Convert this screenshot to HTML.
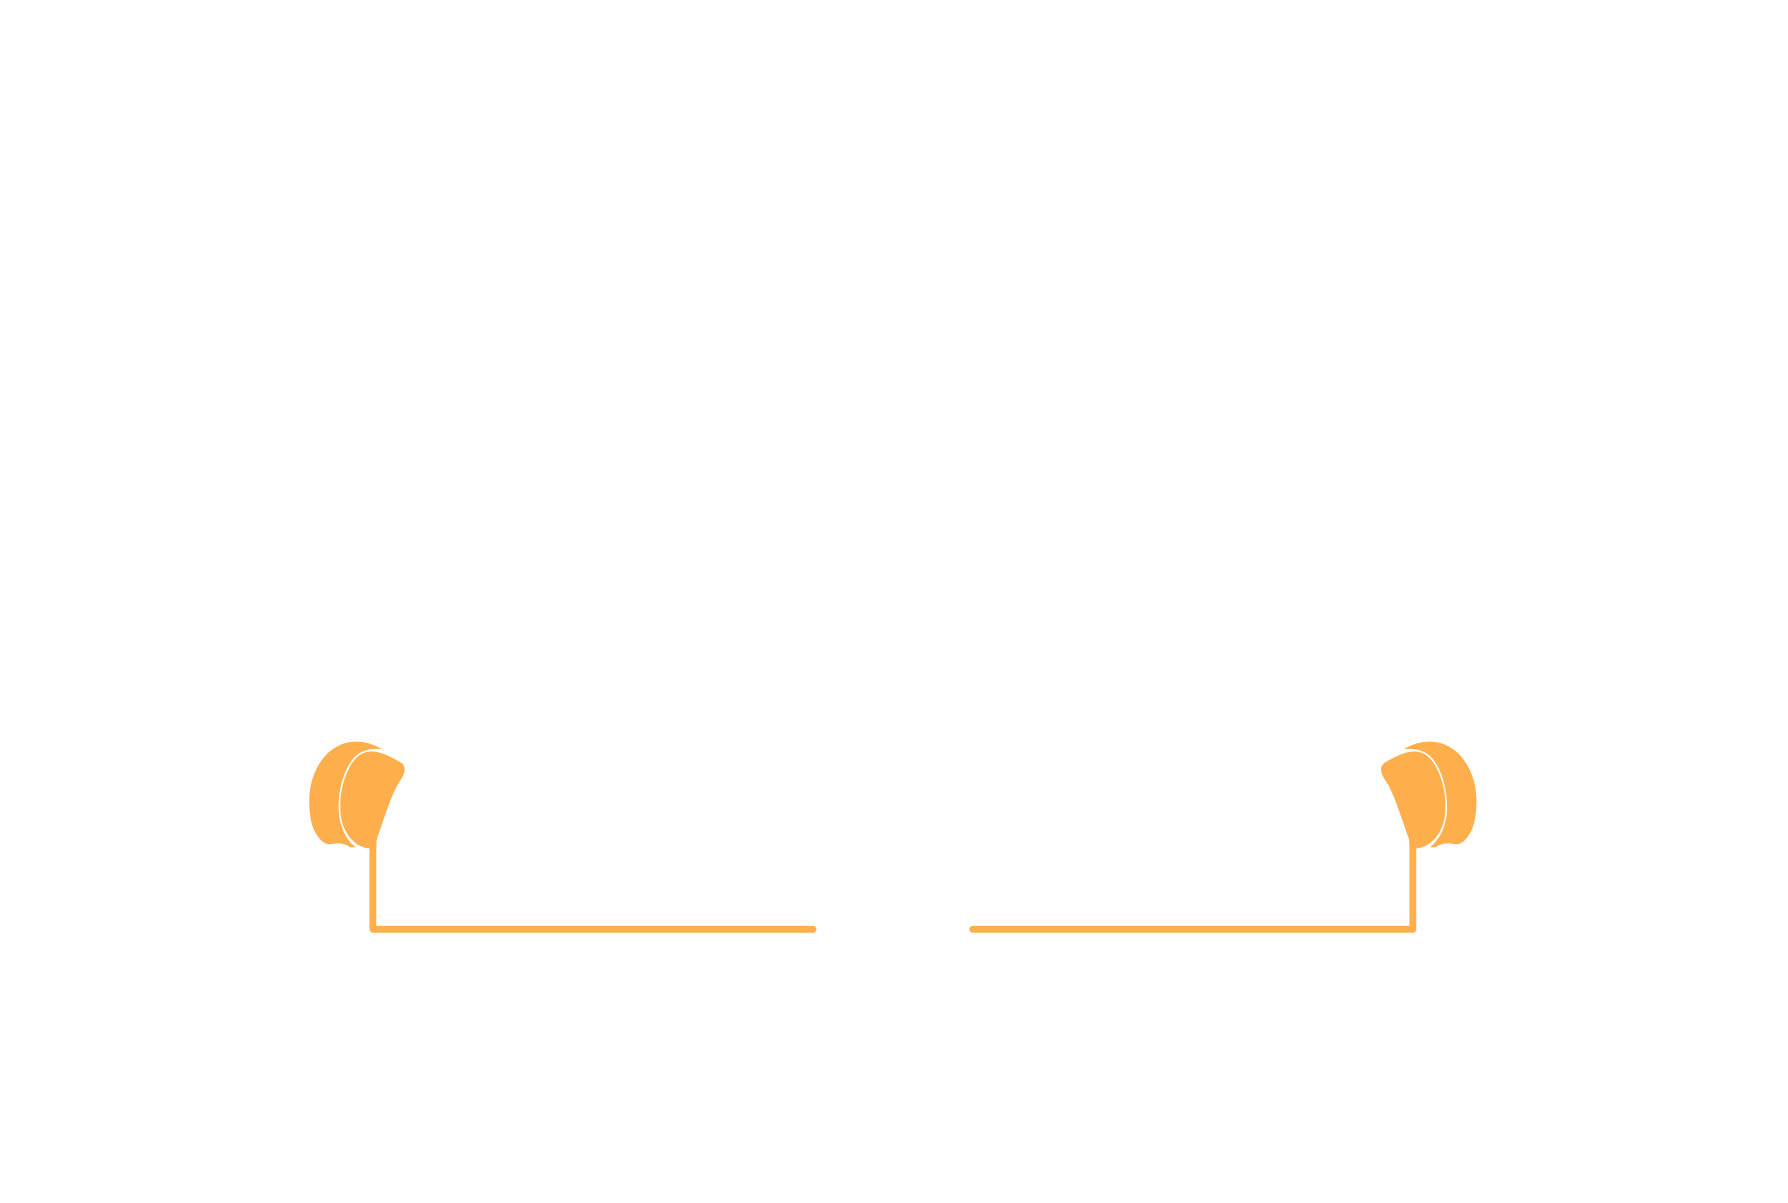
<!DOCTYPE html>
<html>
<head>
<meta charset="utf-8">
<style>
html,body{margin:0;padding:0;background:#fff;}
svg{display:block;}
</style>
</head>
<body>
<svg width="1788" height="1203" viewBox="0 0 1568 1055" preserveAspectRatio="none">
  <g id="left">
    <path fill="#ffae4c" d="M335,657 C320,648 305,649 295,655 C282,662 274,678 272,692 C270,705 272,720 275,727 C280,737 285,742 292,740 C298,739 303,740 307,743 L312,743 C302,735 297,722 297,708 C297,690 302,675 310,665 C316,658 325,656 335,657 Z"/>
    <path fill="#ffae4c" d="M323,744 C310,742 301,730 299,716 C297,700 300,685 307,672 C312,663 318,659 326,659 C335,659 345,665 352,669 C357,673 355,679 350,686 C343,697 337,718 331,734 C330,737 330,740 330,744 Z"/>
    <path fill="none" stroke="#ffae4c" stroke-width="6" stroke-linecap="round" stroke-linejoin="round" d="M327,738 L327,815 L713,815"/>
  </g>
  <g transform="translate(1566,0) scale(-1,1)">
    <path fill="#ffae4c" d="M335,657 C320,648 305,649 295,655 C282,662 274,678 272,692 C270,705 272,720 275,727 C280,737 285,742 292,740 C298,739 303,740 307,743 L312,743 C302,735 297,722 297,708 C297,690 302,675 310,665 C316,658 325,656 335,657 Z"/>
    <path fill="#ffae4c" d="M323,744 C310,742 301,730 299,716 C297,700 300,685 307,672 C312,663 318,659 326,659 C335,659 345,665 352,669 C357,673 355,679 350,686 C343,697 337,718 331,734 C330,737 330,740 330,744 Z"/>
    <path fill="none" stroke="#ffae4c" stroke-width="6" stroke-linecap="round" stroke-linejoin="round" d="M327,738 L327,815 L713,815"/>
  </g>
</svg>
</body>
</html>
